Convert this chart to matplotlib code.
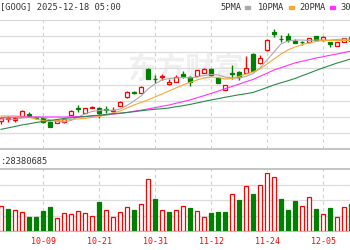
import numpy as np
import matplotlib
matplotlib.use('Agg')
import matplotlib.pyplot as plt
from matplotlib.patches import Rectangle

# 交易日 (2025-10-01 .. 2025-12-11)
dates = ['10-01', '10-02', '10-03', '10-06', '10-07', '10-08', '10-09', '10-10', '10-13', '10-14',
         '10-15', '10-16', '10-17', '10-20', '10-21', '10-22', '10-23', '10-24', '10-27', '10-28',
         '10-29', '10-30', '10-31', '11-03', '11-04', '11-05', '11-06', '11-07', '11-10', '11-11',
         '11-12', '11-13', '11-14', '11-17', '11-18', '11-19', '11-20', '11-21', '11-24', '11-25',
         '11-26', '11-28', '12-01', '12-02', '12-03', '12-04', '12-05', '12-08', '12-09', '12-10',
         '12-11']
label_dates = ['10-09', '10-21', '10-31', '11-12', '11-24', '12-05']

opens = [244.3, 246.1, 244.8, 248.7, 250.4, 247.8, 246.9, 243.5, 242.6, 243.5,
         249.5, 255.6, 251.3, 255.6, 255.6, 254.8, 253.0, 257.3, 265.2, 269.5,
         268.6, 289.5, 281.2, 282.1, 276.5, 278.2, 284.7, 282.5, 283.4, 286.0,
         289.5, 281.7, 271.3, 285.6, 286.9, 286.0, 302.5, 294.7, 306.0, 321.6,
         315.9, 318.1, 314.0, 313.2, 312.9, 318.1, 314.6, 312.9, 309.4, 312.9,
         317.2]
highs = [247.8, 248.7, 247.6, 253.9, 252.2, 248.2, 247.8, 243.9, 246.1, 246.9,
         253.5, 258.2, 256.0, 256.9, 256.5, 257.3, 256.5, 261.7, 270.0, 270.4,
         274.3, 289.9, 284.3, 284.7, 280.8, 284.3, 287.7, 283.0, 289.0, 289.9,
         289.9, 282.1, 276.0, 293.0, 287.3, 300.8, 303.0, 301.6, 315.1, 324.2,
         319.0, 320.7, 315.1, 313.8, 316.8, 318.5, 317.7, 313.3, 313.3, 316.8,
         318.1]
lows = [241.7, 243.5, 243.5, 248.2, 247.8, 246.1, 242.6, 238.7, 242.2, 243.0,
        249.1, 252.2, 250.9, 255.2, 246.9, 251.3, 251.3, 256.9, 264.7, 267.8,
        268.2, 280.4, 277.3, 279.9, 276.0, 277.8, 281.7, 274.7, 283.0, 285.6,
        283.8, 276.9, 270.8, 280.8, 279.9, 285.6, 287.3, 293.8, 305.5, 317.2,
        312.9, 312.9, 312.0, 310.7, 312.5, 314.2, 314.2, 308.6, 309.0, 312.5,
        312.0]
closes = [246.9, 246.4, 246.6, 253.0, 248.7, 246.5, 243.5, 239.1, 245.2, 246.1,
          253.0, 254.8, 255.6, 256.5, 251.3, 253.9, 254.1, 260.8, 269.5, 268.6,
          273.9, 280.8, 280.4, 283.0, 278.2, 282.5, 283.8, 278.2, 288.6, 289.5,
          284.3, 277.3, 275.6, 284.7, 282.5, 290.3, 287.7, 299.0, 314.6, 319.9,
          315.1, 315.0, 312.2, 312.5, 316.4, 314.6, 317.2, 311.2, 312.9, 316.4,
          313.8]
# 成交量 (百万股)
volumes = [32.6, 28.0, 27.1, 24.5, 18.5, 18.5, 25.8, 30.6, 16.4, 23.6,
           21.5, 25.8, 23.6, 19.0, 37.8, 26.7, 18.1, 24.1, 31.4, 27.1,
           35.2, 66.7, 40.9, 26.7, 24.5, 26.7, 31.9, 29.3, 25.4, 18.5,
           22.8, 24.5, 24.5, 47.3, 40.0, 58.4, 47.3, 59.7, 74.4, 69.3,
           41.3, 27.1, 38.7, 32.6, 43.5, 28.4, 21.5, 29.3, 18.5, 30.6,
           35.2]
ma5 = [246.1, 246.1, 245.6, 246.9, 247.4, 247.8, 247.4, 245.2, 243.9, 243.5,
       244.8, 247.8, 250.4, 252.6, 253.4, 253.9, 253.4, 254.8, 257.8, 261.7,
       266.0, 272.1, 276.5, 279.9, 281.2, 281.7, 282.1, 281.7, 282.5, 283.8,
       284.7, 284.3, 282.5, 281.7, 281.7, 283.0, 285.6, 290.3, 297.3, 304.2,
       311.2, 313.8, 314.6, 314.6, 314.2, 314.6, 314.6, 314.6, 315.1, 315.5,
       315.5]
ma10 = [248.7, 248.7, 248.7, 248.2, 247.4, 246.1, 244.8, 244.3, 244.8, 245.2,
        245.6, 246.1, 246.5, 247.4, 248.2, 249.5, 251.3, 253.0, 255.6, 258.2,
        260.4, 262.6, 265.2, 267.8, 270.4, 273.0, 275.6, 277.8, 279.9, 281.7,
        282.5, 282.1, 280.8, 281.2, 283.0, 285.1, 286.9, 289.5, 293.8, 298.1,
        302.5, 306.0, 308.6, 310.7, 312.0, 313.3, 314.2, 314.2, 314.2, 314.2,
        314.2]
ma20 = [247.4, 247.5, 247.6, 247.8, 247.8, 247.8, 247.8, 247.8, 247.8, 247.8,
        248.0, 248.1, 248.2, 248.7, 249.1, 249.5, 250.2, 251.0, 251.7, 252.8,
        253.7, 254.8, 255.9, 257.1, 258.2, 259.7, 261.1, 262.6, 264.5, 266.3,
        268.2, 270.2, 272.3, 274.3, 276.3, 278.4, 280.4, 283.1, 285.8, 288.6,
        290.6, 292.7, 294.7, 296.2, 297.5, 299.0, 300.1, 301.4, 302.5, 303.8,
        305.1]
ma30 = [237.1, 238.3, 239.6, 240.9, 241.9, 243.0, 243.9, 244.8, 245.6, 246.5,
        247.1, 247.6, 248.2, 248.8, 249.4, 250.0, 250.6, 251.1, 251.7, 252.4,
        253.2, 253.9, 254.5, 255.0, 255.6, 256.7, 257.6, 258.7, 260.0, 261.3,
        262.6, 263.7, 264.9, 266.0, 267.1, 268.0, 269.1, 271.2, 273.4, 275.6,
        277.5, 279.3, 281.2, 283.6, 285.8, 288.2, 290.4, 292.5, 294.6, 296.4,
        298.3]

RED = '#ff0000'
GREEN = '#008000'
W, H = 350, 250


def fy(px):
    return 1 - px / H


fig = plt.figure(figsize=(W / 100, H / 100), dpi=100)
ax = fig.add_axes([0, fy(149), 1, (149 - 20) / H])
axv = fig.add_axes([0, fy(231), 1, (231 - 169) / H])

x = np.arange(len(dates))
o, h, l, c = map(np.array, (opens, highs, lows, closes))
up = c >= o
col = np.where(up, RED, GREEN)
# 成交量颜色按涨跌(与前收盘比较)
vol_up = np.r_[True, c[1:] >= c[:-1]]
vcol = np.where(vol_up, RED, GREEN)
label_idx = [dates.index(d) for d in label_dates]

for a in (ax, axv):
    a.set_xlim(-1 / 7, 349 / 7)
    a.set_xticks(label_idx)
    a.grid(axis='x', color='#d0d0d0', lw=0.8, ls=(0, (3, 3)))
    a.grid(axis='y', color='#dddddd', lw=0.9)
    a.tick_params(length=0, labelleft=False)
    a.set_axisbelow(True)
    for s in ('left', 'right'):
        a.spines[s].set_visible(False)

# K线
ax.set_ylim(220, 332)
ax.set_yticks(np.linspace(220, 332, 9)[1:-1])
ax.spines['top'].set_color('#d6d6d6')
ax.spines['bottom'].set_color('#c4c4c4')
ax.spines['bottom'].set_linewidth(1.4)
ax.tick_params(labelbottom=False)

# 水印
ax.text(0.53, 0.62, '东方财富', transform=ax.transAxes, ha='center', va='center',
        fontsize=21, color='#efefef', family=['Noto Sans CJK SC', 'DejaVu Sans'],
        fontweight='bold', style='italic', zorder=0)

ax.vlines(x, l, h, colors=col, lw=1, zorder=3)
body = np.maximum(np.abs(c - o), 0.6)
ax.bar(x, body, bottom=np.minimum(o, c), width=0.62,
       color=np.where(up, 'white', GREEN), edgecolor=col, lw=0.9, zorder=4)

ax.plot(x, ma5, color='#aaaaaa', lw=0.8, zorder=5)
ax.plot(x, ma10, color='#f7a835', lw=0.8, zorder=5)
ax.plot(x, ma20, color='#ff33ff', lw=0.8, zorder=5)
ax.plot(x, ma30, color='#2a8a4a', lw=0.8, zorder=5)

# 成交量
axv.set_ylim(0, 80)
axv.set_yticks([20, 40, 60])
axv.spines['top'].set_color('#c4c4c4')
axv.spines['top'].set_linewidth(1.4)
axv.spines['bottom'].set_color('#bbbbbb')
axv.bar(x, volumes, width=0.62, color=np.where(vol_up, 'white', GREEN),
        edgecolor=vcol, lw=0.9, zorder=3)
axv.set_xticklabels(label_dates, fontsize=6, color=RED, family='DejaVu Sans Mono')
axv.tick_params(axis='x', pad=4)

# 标题和图例
mono = 'DejaVu Sans Mono'
fig.text(0, fy(7), '[GOOG] 2025-12-18 05:00', ha='left', va='center', fontsize=6.3,
         family=mono, color='#333333')
legend = [('5PMA', '#aaaaaa', 220), ('10PMA', '#f7a835', 258),
          ('20PMA', '#ff33ff', 299), ('30PMA', '#2a8a4a', 340)]
for name, color, px in legend:
    fig.text(px / W, fy(7), name, ha='left', va='center', fontsize=6.3,
             family=mono, color='#333333')
    bx = px + len(name) * 5.5 + 3
    fig.patches.append(Rectangle((bx / W, fy(9)), 5 / W, 3 / H, color=color,
                                 transform=fig.transFigure, figure=fig))

fig.text(1 / W, fy(161), ':28380685', ha='left', va='center', fontsize=6.3,
         family=mono, color='#333333')

fig.savefig('out.png', dpi=100)
